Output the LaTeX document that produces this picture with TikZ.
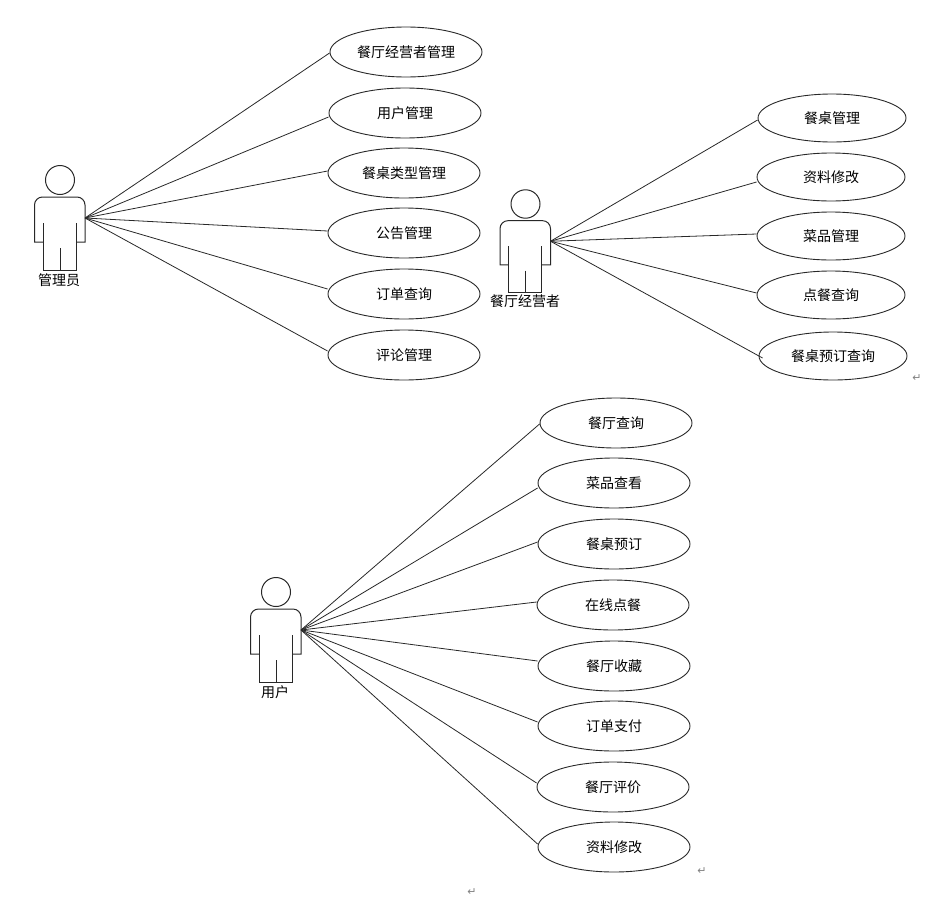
\documentclass[tikz,border=0pt]{standalone}
\usepackage{fontspec}
\setmainfont{Noto Sans CJK SC}
\newfontfamily\markfont{DejaVu Sans}
\usepackage{tikz}
\usetikzlibrary{shapes.geometric}
\definecolor{ink}{RGB}{40, 40, 40}
\definecolor{retmark}{RGB}{130, 130, 130}
\tikzset{
  usecase/.style={draw=ink, line width=0.9pt, ellipse, minimum width=152pt, minimum height=50pt, inner sep=0pt, font=\fontsize{14}{16}\selectfont},
  actorlabel/.style={inner sep=0pt, font=\fontsize{14}{16}\selectfont},
  assoc/.style={draw=ink, line width=0.8pt},
  returnmark/.style={inner sep=0pt, text=retmark, font=\markfont\fontsize{11}{12}\selectfont},
  actorfig/.pic={
    \draw[ink, line width=1pt] (0, 0) circle (14.5pt);
    \draw[ink, line width=1pt] (-17, 62) -- (-25.5, 62)
      [rounded corners=8pt] -- (-25.5, 17) -- (25, 17)
      [sharp corners] -- (25, 62) -- (16, 62);
    \draw[ink, line width=1pt] (-17, 43) -- (-17, 90) -- (16, 90) -- (16, 43);
    \draw[ink, line width=1pt] (0, 68) -- (0, 90);
    \coordinate (-hand) at (25, 38);
  }
}

\begin{document}
\begin{tikzpicture}[x=1pt, y=-1pt]
  \useasboundingbox (0, 0) rectangle (936, 897);

  % manager
  \pic (mgr) at (60, 180) {actorfig};
  \node[actorlabel] (mgrlabel) at (59, 280) {管理员};
  \foreach \nm/\cx/\cy/\dy/\txt in {a/406/52/1/餐厅经营者管理, b/405/113/4/用户管理, c/404/173/-2/餐桌类型管理,
      d/404/233/-2/公告管理, e/404/294/-5/订单查询, f/404/355/-4/评论管理} {
    \node[usecase] (mgr\nm) at (\cx, \cy) {\txt};
    \draw[assoc] (mgr-hand) -- ([shift={(0, \dy)}]mgr\nm.west);
  }

  % restaurant owner
  \pic[yscale=0.98] (own) at (525.5, 204) {actorfig};
  \node[actorlabel] (ownlabel) at (525, 301) {餐厅经营者};
  \foreach \nm/\cx/\cy/\dx/\dy/\txt in {a/832/118/0/2/餐桌管理, b/831/177/0/5/资料修改, c/831/236/0/-2/菜品管理,
      d/831/295/0/-2/点餐查询, e/833/356/4/2/餐桌预订查询} {
    \node[usecase, minimum width=148pt, minimum height=48pt] (own\nm) at (\cx, \cy) {\txt};
    \draw[assoc] (own-hand) -- ([shift={(\dx, \dy)}]own\nm.west);
  }
  \node[returnmark] (ownret) at (917, 378) {↵};

  % customer
  \pic (usr) at (276, 592) {actorfig};
  \node[actorlabel] (usrlabel) at (275, 692) {用户};
  \foreach \nm/\cx/\cy/\dy/\txt in {a/616/423/1/餐厅查询, b/614/483/5/菜品查看, c/614/544/-2/餐桌预订, d/613/605/-3/在线点餐,
      e/614/666/-5/餐厅收藏, f/614/726/-4/订单支付, g/613/787/-4/餐厅评价, h/614/847/-3/资料修改} {
    \node[usecase] (usr\nm) at (\cx, \cy) {\txt};
    \draw[assoc] (usr-hand) -- ([shift={(0, \dy)}]usr\nm.west);
  }
  \node[returnmark] (usrret) at (702, 871) {↵};
  \node[returnmark] (pageret) at (472, 892) {↵};

\end{tikzpicture}
\end{document}
